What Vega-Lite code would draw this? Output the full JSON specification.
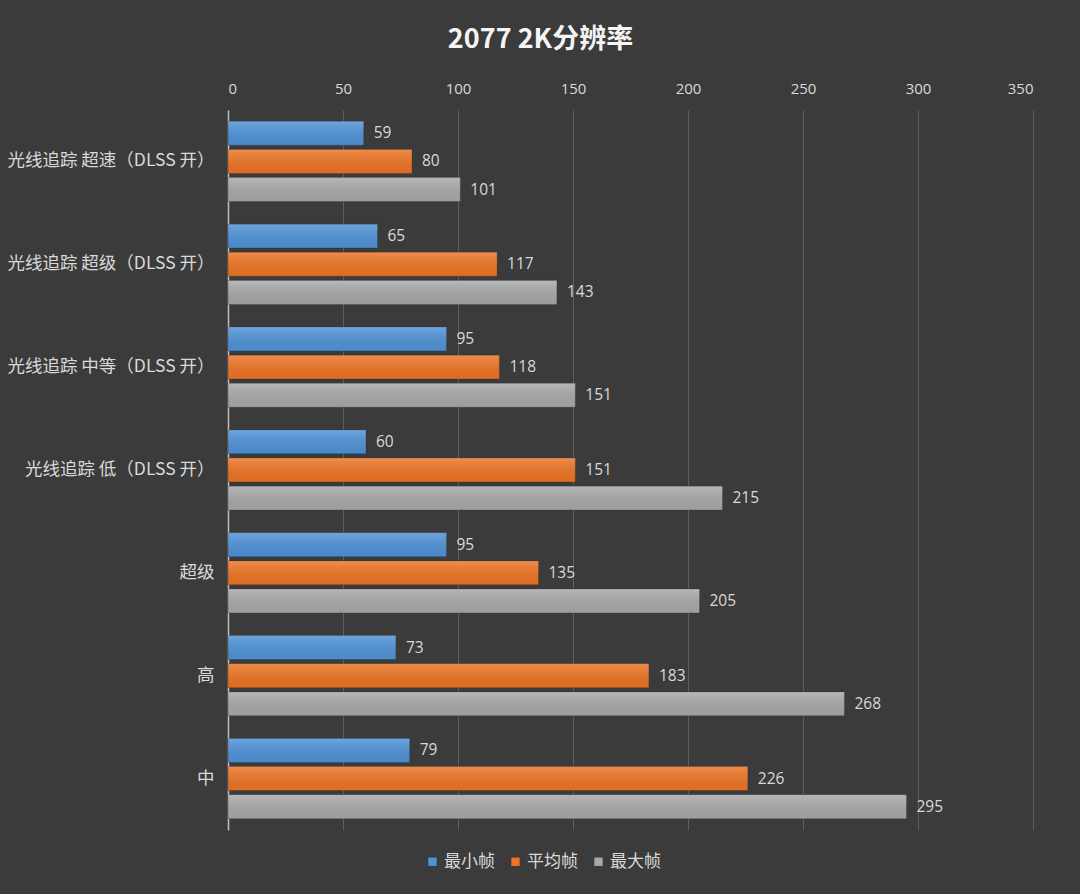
{
  "$schema": "https://vega.github.io/schema/vega-lite/v6.json",
  "width": 805,
  "height": 720,
  "autosize": {"type": "none"},
  "padding": {"left": 228, "top": 110, "right": 47, "bottom": 64},
  "background": "#3b3b3b",
  "title": {
    "text": "2077 2K分辨率",
    "color": "#f5f5f5",
    "fontSize": 27,
    "font": "Noto Sans CJK SC",
    "fontWeight": "bold",
    "anchor": "middle",
    "dx": -90,
    "offset": 27
  },
  "config": {
    "view": {"stroke": null},
    "font": "Noto Sans CJK SC"
  },
  "data": {
    "values": [
      {"cat": "光线追踪 超速（DLSS 开）", "series": "最小帧", "value": 59},
      {"cat": "光线追踪 超速（DLSS 开）", "series": "平均帧", "value": 80},
      {"cat": "光线追踪 超速（DLSS 开）", "series": "最大帧", "value": 101},
      {"cat": "光线追踪 超级（DLSS 开）", "series": "最小帧", "value": 65},
      {"cat": "光线追踪 超级（DLSS 开）", "series": "平均帧", "value": 117},
      {"cat": "光线追踪 超级（DLSS 开）", "series": "最大帧", "value": 143},
      {"cat": "光线追踪 中等（DLSS 开）", "series": "最小帧", "value": 95},
      {"cat": "光线追踪 中等（DLSS 开）", "series": "平均帧", "value": 118},
      {"cat": "光线追踪 中等（DLSS 开）", "series": "最大帧", "value": 151},
      {"cat": "光线追踪 低（DLSS 开）", "series": "最小帧", "value": 60},
      {"cat": "光线追踪 低（DLSS 开）", "series": "平均帧", "value": 151},
      {"cat": "光线追踪 低（DLSS 开）", "series": "最大帧", "value": 215},
      {"cat": "超级", "series": "最小帧", "value": 95},
      {"cat": "超级", "series": "平均帧", "value": 135},
      {"cat": "超级", "series": "最大帧", "value": 205},
      {"cat": "高", "series": "最小帧", "value": 73},
      {"cat": "高", "series": "平均帧", "value": 183},
      {"cat": "高", "series": "最大帧", "value": 268},
      {"cat": "中", "series": "最小帧", "value": 79},
      {"cat": "中", "series": "平均帧", "value": 226},
      {"cat": "中", "series": "最大帧", "value": 295}
    ]
  },
  "encoding": {
    "y": {
      "field": "cat",
      "type": "nominal",
      "sort": null,
      "scale": {"paddingInner": 0.22, "paddingOuter": 0.11},
      "axis": {
        "title": null,
        "domain": true,
        "domainColor": "#bfbfbf",
        "domainWidth": 1.5,
        "ticks": false,
        "labelColor": "#d9d9d9",
        "labelFontSize": 17.5,
        "labelPadding": 14,
        "labelLimit": 300
      }
    },
    "yOffset": {
      "field": "series",
      "type": "nominal",
      "sort": ["最小帧", "平均帧", "最大帧"],
      "scale": {"paddingInner": 0.15}
    },
    "x": {
      "field": "value",
      "type": "quantitative",
      "scale": {"domain": [0, 350], "nice": false},
      "axis": {
        "orient": "top",
        "title": null,
        "values": [0, 50, 100, 150, 200, 250, 300, 350],
        "domain": false,
        "ticks": false,
        "grid": true,
        "gridColor": "#5e5e5e",
        "gridWidth": 1,
        "labelColor": "#d9d9d9",
        "labelFontSize": 15,
        "labelPadding": 14,
        "labelFont": "Open Sans"
      }
    }
  },
  "layer": [
    {
      "mark": {"type": "bar", "stroke": "#2a2a2a", "strokeWidth": 0.5, "strokeOpacity": 0.6},
      "encoding": {
        "color": {
          "field": "series",
          "type": "nominal",
          "sort": ["最小帧", "平均帧", "最大帧"],
          "scale": {"domain": ["最小帧", "平均帧", "最大帧"], "range": ["#4f93d8", "#ee7424", "#a9a9a9"]},
          "legend": {
            "title": null,
            "orient": "none",
            "direction": "horizontal",
            "legendX": 196,
            "legendY": 743,
            "symbolType": "square",
            "symbolSize": 70,
            "symbolStrokeWidth": 0,
            "labelColor": "#d9d9d9",
            "labelFontSize": 17,
            "labelOffset": 3,
            "columnPadding": 12
          }
        }
      }
    },
    {
      "mark": {
        "type": "bar",
        "fill": {
          "gradient": "linear",
          "x1": 0, "y1": 0, "x2": 0, "y2": 1,
          "stops": [
            {"offset": 0, "color": "rgba(255,255,255,0.18)"},
            {"offset": 1, "color": "rgba(0,0,0,0.06)"}
          ]
        }
      },
      "encoding": {}
    },
    {
      "mark": {"type": "text", "align": "left", "baseline": "middle", "dx": 10, "color": "#d9d9d9", "fontSize": 15.5, "font": "Open Sans"},
      "encoding": {"text": {"field": "value", "type": "quantitative"}}
    }
  ]
}
